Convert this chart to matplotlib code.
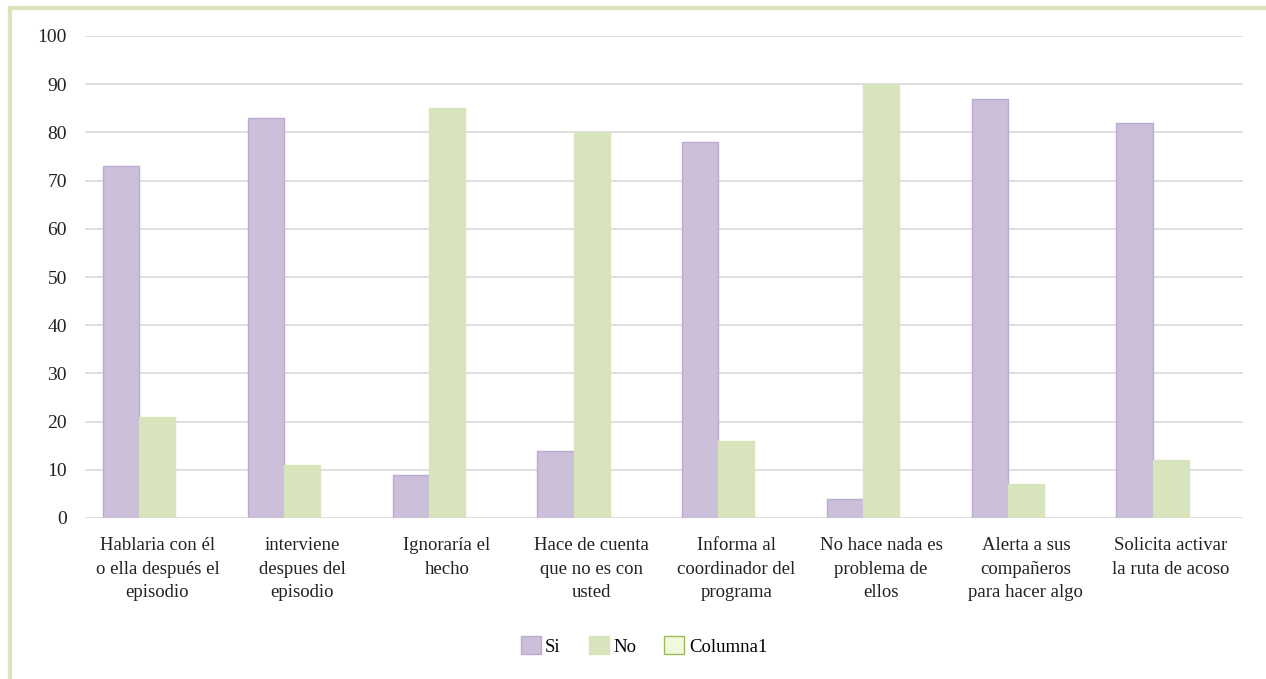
import matplotlib
matplotlib.use("Agg")
import matplotlib.pyplot as plt
from matplotlib.patches import Rectangle, Patch
import numpy as np

plt.rcParams['font.family'] = ['Liberation Serif', 'DejaVu Serif']

categories = ["Hablaria con él\no ella después el\nepisodio",
              "interviene\ndespues del\nepisodio",
              "Ignoraría el\nhecho",
              "Hace de cuenta\nque no es con\nusted",
              "Informa al\ncoordinador del\nprograma",
              "No hace nada es\nproblema de\nellos",
              "Alerta a sus\ncompañeros\npara hacer algo",
              "Solicita activar\nla ruta de acoso"]
si = [73, 83, 9, 14, 78, 4, 87, 82]
no = [21, 11, 85, 80, 16, 90, 7, 12]
columna1 = [0, 0, 0, 0, 0, 0, 0, 0]
yticks = [0, 10, 20, 30, 40, 50, 60, 70, 80, 90, 100]

W, H = 1266, 679
fig = plt.figure(figsize=(W/100, H/100), dpi=100)
ax = fig.add_axes([85/W, 1-518/H, (1243-85)/W, (518-36)/H])

x = np.arange(len(categories))
bw = 0.25
ax.bar(x - bw, si, bw, color='#CBBFDA', edgecolor='#BBABD1', linewidth=1, label='Si', zorder=3)
ax.bar(x, no, bw, color='#D7E4BC', edgecolor='#D7E4BC', linewidth=1, label='No', zorder=3)
ax.bar(x + bw, columna1, bw, color='#F2F8DC', edgecolor='#9BBB59', linewidth=0, label='Columna1', zorder=3)

ax.set_xlim(-0.5, len(categories) - 0.5)
ax.set_ylim(0, 100)
ax.set_yticks(yticks)
ax.yaxis.grid(True, color='#D9D9D9', linewidth=1.2)
ax.set_axisbelow(True)
for s in ax.spines.values():
    s.set_visible(False)
ax.tick_params(axis='both', length=0, colors='#222222')
ax.tick_params(axis='y', pad=13, labelsize=14)
ax.tick_params(axis='x', pad=14, labelsize=13.5)
ax.set_xticks(x)
ax.set_xticklabels(categories, linespacing=1.5)

handles = [Patch(facecolor='#CBBFDA', edgecolor='#BBABD1', label='Si'),
           Patch(facecolor='#D7E4BC', edgecolor='#D7E4BC', label='No'),
           Patch(facecolor='#F2F8DC', edgecolor='#9BBB59', label='Columna1')]
fig.legend(handles=handles, loc='center', bbox_to_anchor=(644/W, 1-646/H), ncol=3,
           frameon=False, fontsize=13.5, handlelength=1.05, handleheight=1.05,
           handletextpad=0.25, columnspacing=1.5)

# outer border (green, top and left)
fig.patches.append(Rectangle((10/W, -0.1), 1.2, 1 - 8/H + 0.1, transform=fig.transFigure,
                             fill=False, edgecolor='#D7E4BC', linewidth=3))

fig.savefig("out.png", dpi=100)
